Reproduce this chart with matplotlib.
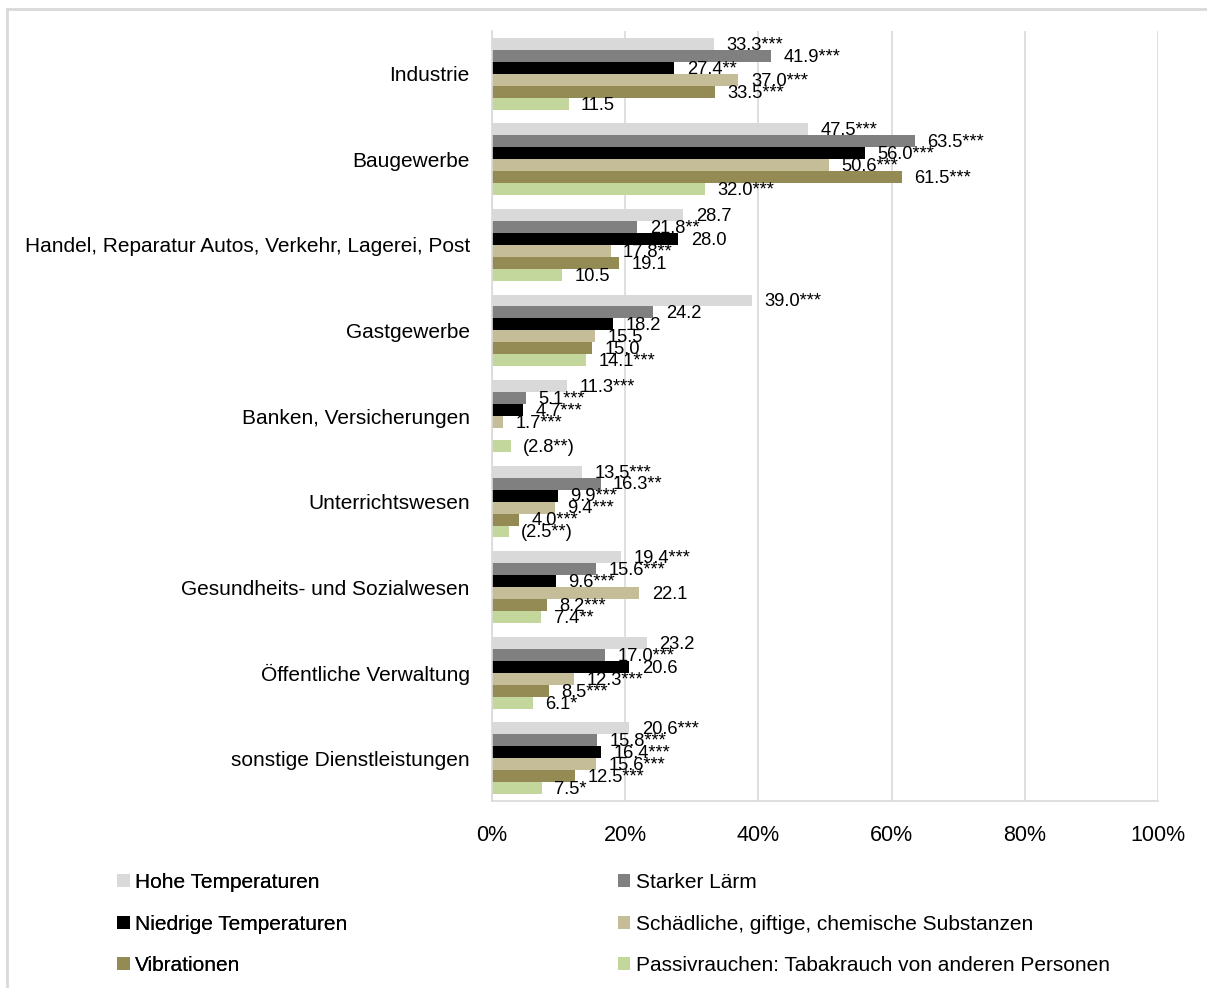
import matplotlib
matplotlib.use("Agg")
import matplotlib.pyplot as plt
from matplotlib.patches import Patch
from matplotlib.lines import Line2D
import numpy as np

plt.rcParams['font.family'] = ['Liberation Sans', 'DejaVu Sans']

categories = [
    "Industrie",
    "Baugewerbe",
    "Handel, Reparatur Autos, Verkehr, Lagerei, Post",
    "Gastgewerbe",
    "Banken, Versicherungen",
    "Unterrichtswesen",
    "Gesundheits- und Sozialwesen",
    "Öffentliche Verwaltung",
    "sonstige Dienstleistungen",
]

series_names = [
    "Hohe Temperaturen",
    "Starker Lärm",
    "Niedrige Temperaturen",
    "Schädliche, giftige, chemische Substanzen",
    "Vibrationen",
    "Passivrauchen: Tabakrauch von anderen Personen",
]
colors = ["#D9D9D9", "#808080", "#000000", "#C4BD97", "#948A54", "#C3D69B"]

hohe_temp = [33.3, 47.5, 28.7, 39.0, 11.3, 13.5, 19.4, 23.2, 20.6]
laerm = [41.9, 63.5, 21.8, 24.2, 5.1, 16.3, 15.6, 17.0, 15.8]
niedrige_temp = [27.4, 56.0, 28.0, 18.2, 4.7, 9.9, 9.6, 20.6, 16.4]
substanzen = [37.0, 50.6, 17.8, 15.5, 1.7, 9.4, 22.1, 12.3, 15.6]
vibrationen = [33.5, 61.5, 19.1, 15.0, None, 4.0, 8.2, 8.5, 12.5]
passivrauchen = [11.5, 32.0, 10.5, 14.1, 2.8, 2.5, 7.4, 6.1, 7.5]

hohe_temp_lbl = ["33.3***", "47.5***", "28.7", "39.0***", "11.3***", "13.5***", "19.4***", "23.2", "20.6***"]
laerm_lbl = ["41.9***", "63.5***", "21.8**", "24.2", "5.1***", "16.3**", "15.6***", "17.0***", "15.8***"]
niedrige_temp_lbl = ["27.4**", "56.0***", "28.0", "18.2", "4.7***", "9.9***", "9.6***", "20.6", "16.4***"]
substanzen_lbl = ["37.0***", "50.6***", "17.8**", "15.5", "1.7***", "9.4***", "22.1", "12.3***", "15.6***"]
vibrationen_lbl = ["33.5***", "61.5***", "19.1", "15.0", "", "4.0***", "8.2***", "8.5***", "12.5***"]
passivrauchen_lbl = ["11.5", "32.0***", "10.5", "14.1***", "(2.8**)", "(2.5**)", "7.4**", "6.1*", "7.5*"]

x_ticks = [0, 20, 40, 60, 80, 100]
x_tick_labels = ["0%", "20%", "40%", "60%", "80%", "100%"]

series = [hohe_temp, laerm, niedrige_temp, substanzen, vibrationen, passivrauchen]
labels = [hohe_temp_lbl, laerm_lbl, niedrige_temp_lbl, substanzen_lbl, vibrationen_lbl, passivrauchen_lbl]

W, H = 1207, 988
fig = plt.figure(figsize=(W / 100, H / 100), dpi=100)
ax = fig.add_axes([492 / W, 1 - 801 / H, (1158 - 492) / W, (801 - 31) / H])

bar_h = 0.14
y = np.arange(len(categories))
for j, (vals, lbls, col) in enumerate(zip(series, labels, colors)):
    offs = (j - 2.5) * bar_h
    for i, (v, l) in enumerate(zip(vals, lbls)):
        if v is None:
            continue
        ax.barh(y[i] + offs, v, height=bar_h, color=col, linewidth=0, zorder=2)
        if l:
            ax.annotate(l, xy=(v, y[i] + offs), xytext=(9, -1), textcoords="offset points",
                        ha="left", va="center", fontsize=13.2, color="#000000", zorder=3)

ax.set_xlim(0, 100)
ax.set_ylim(len(categories) - 0.5, -0.5)
ax.set_xticks(x_ticks)
ax.set_xticklabels(x_tick_labels, fontsize=15.5)
ax.set_yticks(y)
ax.set_yticklabels(categories, fontsize=15)
ax.tick_params(axis="x", length=0, pad=17)
ax.tick_params(axis="y", length=0, pad=16)
ax.grid(axis="x", color="#D9D9D9", linewidth=1.2, zorder=0)
ax.set_axisbelow(True)
for s in ["top", "right"]:
    ax.spines[s].set_visible(False)
for s in ["left", "bottom"]:
    ax.spines[s].set_color("#D9D9D9")
    ax.spines[s].set_linewidth(1.2)

# legend in two columns (row-wise order)
handles = [Patch(facecolor=c, edgecolor="none") for c in colors]
leg_kw = dict(frameon=False, fontsize=15, handlelength=0.6, handleheight=0.6,
              handletextpad=0.25, labelspacing=1.08, loc="upper left", borderaxespad=0, borderpad=0)
leg1 = fig.legend([handles[0], handles[2], handles[4]],
                  [series_names[0], series_names[2], series_names[4]],
                  bbox_to_anchor=(117 / W, 1 - 873 / H), **leg_kw)
fig.add_artist(leg1)
leg2 = fig.legend([handles[1], handles[3], handles[5]],
                  [series_names[1], series_names[3], series_names[5]],
                  bbox_to_anchor=(618 / W, 1 - 873 / H), **leg_kw)

# outer frame (top and left edges visible)
fig.add_artist(Line2D([7 / W, 1.0], [1 - 9 / H, 1 - 9 / H], color="#D9D9D9", linewidth=2))
fig.add_artist(Line2D([7 / W, 7 / W], [1 - 9 / H, 0.0], color="#D9D9D9", linewidth=2))

fig.savefig("out.png", dpi=100)
